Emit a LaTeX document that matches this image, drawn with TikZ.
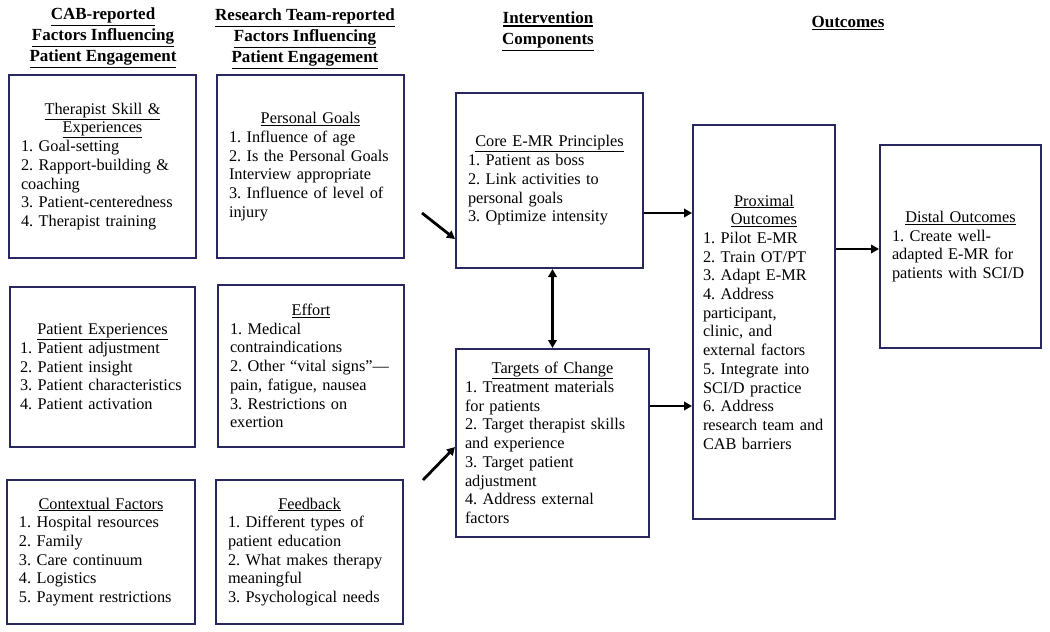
\documentclass[tikz,border=0pt]{standalone}
\usepackage{fontspec}
\setmainfont{Liberation Serif}
\usetikzlibrary{arrows.meta}
\definecolor{boxnavy}{HTML}{28285E}
\newcommand{\ulbox}[2][0.8pt]{\vtop{\hbox{#2}\kern1pt\hrule height #1}}
\newcommand{\ttl}[1]{\makebox[\linewidth]{\ulbox{#1}}\\}
\newcommand{\hd}[1]{\ulbox[1.4pt]{#1}}
\frenchspacing
\hyphenpenalty=10000
\exhyphenpenalty=10000

\begin{document}
\begin{tikzpicture}[x=1pt, y=-1pt]
  \tikzset{colhead/.style={align=center, anchor=north, inner sep=0pt,
             font=\fontsize{17}{21}\selectfont\bfseries},
           factbox/.style={draw=boxnavy, line width=2pt, align=left,
             inner xsep=12pt, inner ysep=3pt,
             font=\fontsize{16.3}{18.7}\selectfont},
           flow/.style={line width=2.8pt, -{Triangle[length=8pt,width=8.5pt]}},
           flowboth/.style={line width=2.8pt,
             {Triangle[length=8pt,width=8.5pt]}-{Triangle[length=8pt,width=8.5pt]}}}
  \useasboundingbox (0,0) rectangle (1050,632);
  % column headers
  \node[colhead] (hdcab) at (103,8) {\hd{CAB-reported}\\\hd{Factors Influencing}\\\hd{Patient Engagement}};
  \node[colhead] (hdres) at (305,9) {\hd{Research Team-reported}\\\hd{Factors Influencing}\\\hd{Patient Engagement}};
  \node[colhead] (hdint) at (548,12) {\hd{Intervention}\\\hd{Components}};
  \node[colhead] (hdout) at (848,16) {\hd{Outcomes}};
  % CAB-reported factors
  \node[factbox, minimum width=187pt, minimum height=183pt, text width=163pt] (ther) at (102.5,166.5)
    {\ttl{Therapist Skill \&}\ttl{Experiences}
     1. Goal-setting\\
     2. Rapport-building \&\\
     coaching\\
     3. Patient-centeredness\\
     4. Therapist training};
  \node[factbox, inner xsep=10pt, minimum width=185pt, minimum height=160pt, text width=165pt] (pexp) at (102.5,367)
    {\ttl{Patient Experiences}
     1. Patient adjustment\\
     2. Patient insight\\
     3. Patient characteristics\\
     4. Patient activation};
  \node[factbox, minimum width=188pt, minimum height=144pt, text width=164pt] (ctx) at (101,552)
    {\ttl{Contextual Factors}
     1. Hospital resources\\
     2. Family\\
     3. Care continuum\\
     4. Logistics\\
     5. Payment restrictions};
  % research team-reported factors
  \node[factbox, minimum width=187pt, minimum height=183pt, text width=163pt] (goal) at (310.5,166.5)
    {\ttl{Personal Goals}
     1. Influence of age\\
     2. Is the Personal Goals\\
     Interview appropriate\\
     3. Influence of level of\\
     injury};
  \node[factbox, minimum width=186pt, minimum height=162pt, text width=162pt] (eff) at (311,366)
    {\ttl{Effort}
     1. Medical\\
     contraindications\\
     2. Other “vital signs”—\\
     pain, fatigue, nausea\\
     3. Restrictions on\\
     exertion};
  \node[factbox, minimum width=187pt, minimum height=144pt, text width=163pt] (fdb) at (309.5,552)
    {\ttl{Feedback}
     1. Different types of\\
     patient education\\
     2. What makes therapy\\
     meaningful\\
     3. Psychological needs};
  % intervention components
  \node[factbox, minimum width=187pt, minimum height=175pt, text width=163pt] (core) at (549.5,180.5)
    {\ttl{Core E-MR Principles}
     1. Patient as boss\\
     2. Link activities to\\
     personal goals\\
     3. Optimize intensity};
  \node[factbox, inner xsep=9pt, minimum width=193pt, minimum height=188pt, text width=175pt] (targ) at (552.5,443)
    {\ttl{Targets of Change}
     1. Treatment materials\\
     for patients\\
     2. Target therapist skills\\
     and experience\\
     3. Target patient\\
     adjustment\\
     4. Address external\\
     factors};
  % outcomes
  \node[factbox, inner xsep=10pt, minimum width=142pt, minimum height=394pt, text width=122pt] (prox) at (764,322)
    {\ttl{Proximal}\ttl{Outcomes}
     1. Pilot E-MR\\
     2. Train OT/PT\\
     3. Adapt E-MR\\
     4. Address\\
     participant,\\
     clinic, and\\
     external factors\\
     5. Integrate into\\
     SCI/D practice\\
     6. Address\\
     research team and\\
     CAB barriers};
  \node[factbox, minimum width=161pt, minimum height=203pt, text width=137pt] (dist) at (960.5,246.5)
    {\ttl{Distal Outcomes}
     1. Create well-\\
     adapted E-MR for\\
     patients with SCI/D};
  % connectors
  \coordinate (inA) at (422,213);
  \coordinate (inB) at (423,480);
  \draw[flow] (inA) -- ([yshift=-58.5pt]core.west);
  \draw[flow] (inB) -- ([yshift=-4pt]targ.west);
  \draw[flowboth] (targ.north |- core.south) -- (targ.north);
  \draw[flow] ([yshift=-32.5pt]core.east) -- ([yshift=-32.5pt]core.east -| prox.west);
  \draw[flow] ([yshift=37pt]targ.east) -- ([yshift=37pt]targ.east -| prox.west);
  \draw[flow] ([yshift=-2.5pt]dist.west -| prox.east) -- ([yshift=-2.5pt]dist.west);
\end{tikzpicture}
\end{document}
